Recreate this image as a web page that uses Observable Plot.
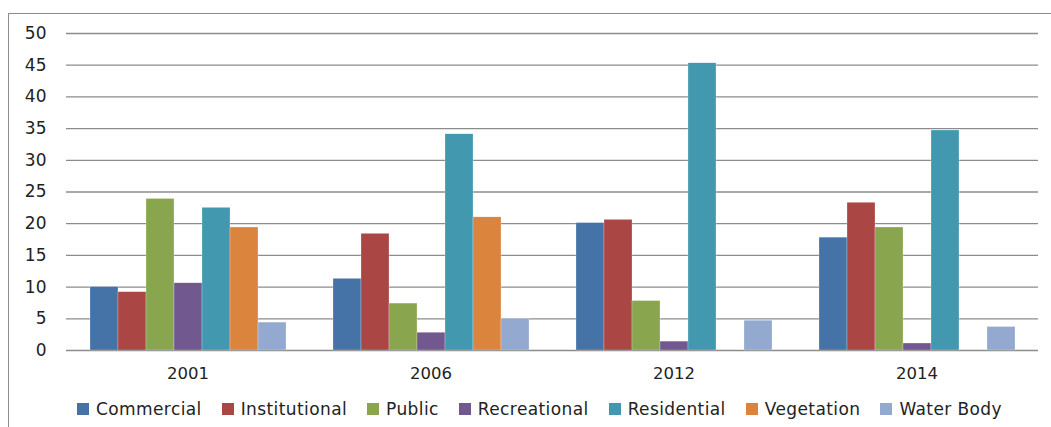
<!DOCTYPE html>
<html>
<head>
<meta charset="utf-8">
<script src="https://cdn.jsdelivr.net/npm/d3@7"></script>
<script src="https://cdn.jsdelivr.net/npm/@observablehq/plot@0.6"></script>
<style>
  html, body { margin: 0; padding: 0; background: #fff; }
  body { width: 1051px; height: 427px; position: relative; overflow: hidden; font-family: "DejaVu Sans", sans-serif; }
  #frame { position: absolute; left: 8px; top: 13px; width: 1100px; height: 500px; border-left: 1.5px solid #8c8c8c; border-top: 1.5px solid #8c8c8c; }
  #chart { position: absolute; left: 0; top: 0; }
  #legend { position: absolute; left: 0; top: 398px; width: 1051px; display: flex; justify-content: center; gap: 20px; font-size: 17px; letter-spacing: 0.4px; color: #222; padding-left: 28px; box-sizing: border-box; line-height: 22px; }
  .item { display: flex; align-items: center; gap: 7px; }
  .sw { width: 12px; height: 12px; display: inline-block; }
</style>
</head>
<body>
<div id="frame"></div>
<div id="chart"></div>
<div id="legend"></div>
<script>
const years = ["2001", "2006", "2012", "2014"];
const categories = ["Commercial", "Institutional", "Public", "Recreational", "Residential", "Vegetation", "Water Body"];
const colors = ["#4572A7", "#AA4643", "#89A54E", "#71588F", "#4198AF", "#DB843D", "#93A9CF"];
const commercial   = [10.0, 11.3, 20.1, 17.8];
const institutional = [9.2, 18.4, 20.6, 23.3];
const publicUse    = [23.9, 7.4, 7.8, 19.4];
const recreational = [10.6, 2.8, 1.4, 1.1];
const residential  = [22.5, 34.1, 45.3, 34.7];
const vegetation   = [19.4, 21.0, 0, 0];
const waterBody    = [4.4, 5.0, 4.7, 3.7];
const yTicks = [0, 5, 10, 15, 20, 25, 30, 35, 40, 45, 50];

const series = [commercial, institutional, publicUse, recreational, residential, vegetation, waterBody];
const data = [];
years.forEach((yr, i) => {
  categories.forEach((c, j) => {
    data.push({year: yr, category: c, value: series[j][i]});
  });
});

const chart = Plot.plot({
  width: 1051,
  height: 395,
  marginTop: 33,
  marginBottom: 45,
  marginLeft: 65,
  marginRight: 13,
  style: {fontFamily: "DejaVu Sans, sans-serif", background: "transparent"},
  fx: {domain: years, padding: 0, label: null},
  x: {domain: categories, axis: null, paddingInner: 0, paddingOuter: 0.75},
  y: {domain: [0, 50], ticks: yTicks, label: null},
  color: {domain: categories, range: colors},
  marks: [
    Plot.ruleY(yTicks, {stroke: "#8c8c8c", strokeWidth: 1.3}),
    Plot.barY(data.filter(d => d.value > 0), {fx: "year", x: "category", y: "value", fill: "category", stroke: "#ffffff", strokeWidth: 0.4, strokeOpacity: 0.6}),
    Plot.axisY({ticks: yTicks, tickSize: 0, tickPadding: 20, fontSize: 17, fill: "#222", label: null}),
    Plot.axisFx({anchor: "bottom", tickSize: 0, tickPadding: 17, fontSize: 16.5, fill: "#222", label: null})
  ]
});
document.getElementById("chart").appendChild(chart);

const legend = document.getElementById("legend");
categories.forEach((c, i) => {
  const it = document.createElement("div");
  it.className = "item";
  const sw = document.createElement("span");
  sw.className = "sw";
  sw.style.background = colors[i];
  const t = document.createElement("span");
  t.textContent = c;
  it.appendChild(sw);
  it.appendChild(t);
  legend.appendChild(it);
});
</script>
</body>
</html>
